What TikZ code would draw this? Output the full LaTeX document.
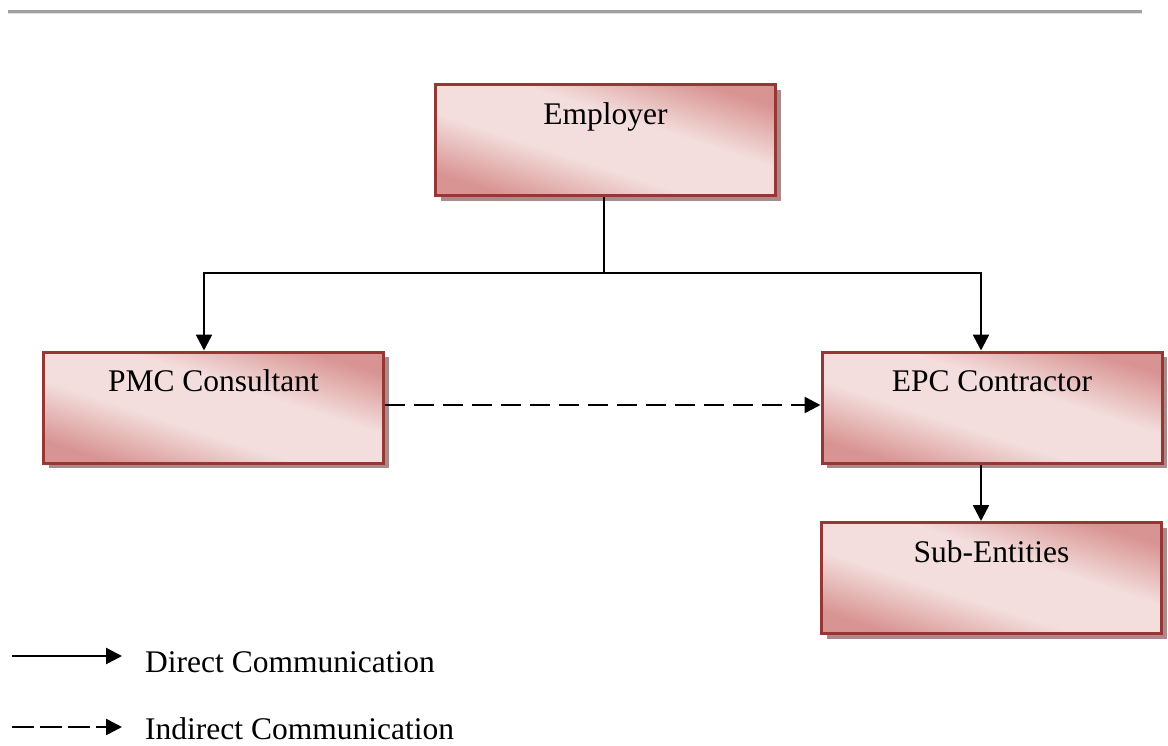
\documentclass[tikz,border=0pt]{standalone}
\usepackage{fontspec}
\setmainfont{Liberation Serif}
\usetikzlibrary{arrows.meta,shadows,calc}
\definecolor{dkpink}{RGB}{216,148,146}
\definecolor{ltpink}{RGB}{243,222,221}
\definecolor{bordercol}{RGB}{149,55,53}
\definecolor{shadowcol}{RGB}{168,140,140}
\definecolor{rulecol}{RGB}{160,160,160}
\definecolor{rulelt}{RGB}{225,225,225}
\pgfdeclareverticalshading{boxshade}{100bp}{color(0bp)=(dkpink); color(25bp)=(dkpink); color(42bp)=(ltpink); color(58bp)=(ltpink); color(75bp)=(dkpink); color(100bp)=(dkpink)}
\tikzset{
  box/.style={draw=bordercol, line width=3pt, shading=boxshade, shading angle=-18,
    minimum width=340pt, minimum height=111pt, inner sep=0pt,
    text height=39.5pt, text depth=71.5pt,
    font=\fontsize{31.5}{38}\selectfont,
    drop shadow={shadow xshift=5pt, shadow yshift=-5pt, fill=shadowcol, opacity=1}},
  conn/.style={line width=2.6pt, draw=black},
  arr/.style={conn, -{Triangle[length=16pt,width=16pt]}},
  darr/.style={arr, dash pattern=on 20pt off 9pt},
  ldarr/.style={arr, dash pattern=on 22pt off 6pt},
  legtext/.style={anchor=base west, inner sep=0pt, font=\fontsize{31.5}{38}\selectfont}
}
\begin{document}
\begin{tikzpicture}[x=1pt,y=-1pt]
\useasboundingbox (0,0) rectangle (1168,745);
% top rule
\draw[rulecol, line width=3pt] (8,11.5) -- (1142,11.5);
\draw[rulelt, line width=1pt] (8,13.8) -- (1142,13.8);
% boxes
\node[box] (emp) at (605.5,140) {Employer};
\node[box] (pmc) at (213.5,407.5) {PMC Consultant};
\node[box] (epc) at (992,407.5) {EPC Contractor};
\node[box] (sub) at (991.5,578) {Sub-Entities};
% junctions
\coordinate (jm) at (604,273);
\coordinate (jl) at (204,273);
\coordinate (jr) at (981,273);
\draw[conn] (emp.south -| jm) -- (jm);
\draw[arr] (jm) -- (jl) -- (jl |- pmc.north);
\draw[arr] (jm) -- (jr) -- (jr |- epc.north);
\draw[darr] ([yshift=2.5pt]pmc.east) -- ([yshift=2.5pt]epc.west);
\draw[arr] (epc.south -| jr) -- (sub.north -| jr);
% legend
\coordinate (l1a) at (12,656);
\coordinate (l1b) at (122,656);
\coordinate (l2a) at (12,727);
\coordinate (l2b) at (122,727);
\draw[arr] (l1a) -- (l1b);
\draw[ldarr] (l2a) -- (l2b);
\node[legtext] (t1) at (145,672) {Direct Communication};
\node[legtext] (t2) at (145,739) {Indirect Communication};
\end{tikzpicture}
\end{document}
